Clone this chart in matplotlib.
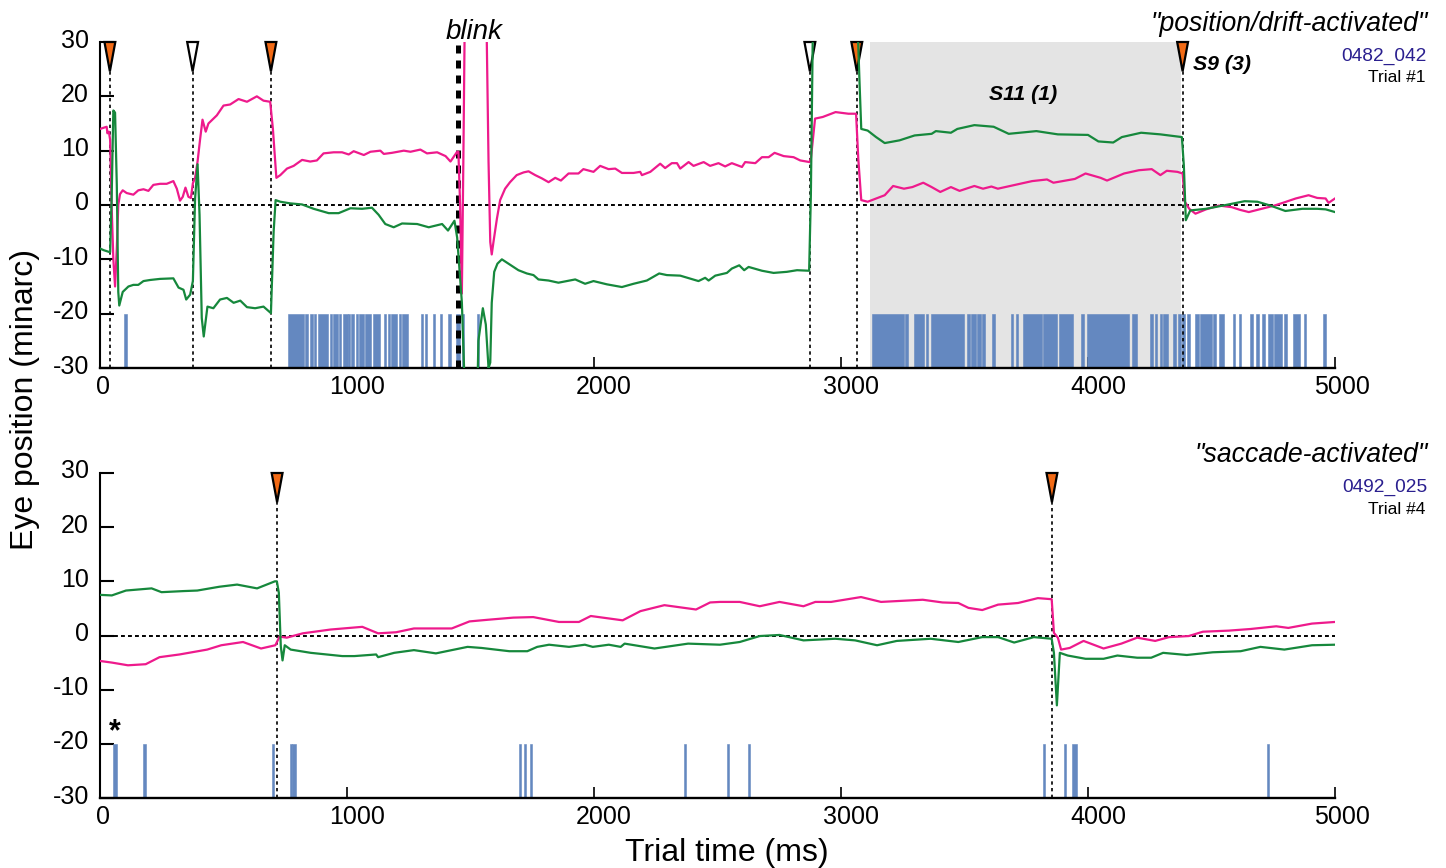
import matplotlib
matplotlib.use("Agg")
import matplotlib.pyplot as plt
from matplotlib.transforms import Affine2D

plt.rcParams['font.family'] = ['Liberation Sans', 'DejaVu Sans']
plt.rcParams['axes.unicode_minus'] = False

PINK = '#ee1a8c'
GREEN = '#16883c'
BLUE = '#6488c0'
ORANGE = '#f26a15'

# top panel traces (ms, minarc)
t1_pink = [0, 20, 27, 30, 36, 41, 47, 54, 61, 68, 74, 81, 92, 108, 135, 155, 176, 196, 216, 243, 270, 297, 311, 324, 335,
           346, 358, 368, 376, 385, 395, 405, 415, 428, 439, 473, 500, 527, 561, 595, 635, 662, 689, 700, 714, 730, 757,
           784, 818, 851, 878, 905, 946, 980, 1007, 1027, 1068, 1095, 1135, 1149, 1182, 1230, 1257, 1297, 1324, 1365,
           1399, 1419, 1446, 1451, 1458, 1465, 1471, 1478, 1500, 1550, 1566, 1573, 1580, 1586, 1593, 1607, 1620, 1640,
           1660, 1687, 1715, 1735, 1762, 1789, 1816, 1843, 1866, 1897, 1937, 1957, 1998, 2025, 2059, 2086, 2113, 2160,
           2187, 2194, 2228, 2268, 2288, 2315, 2336, 2349, 2383, 2403, 2444, 2470, 2504, 2531, 2558, 2599, 2612, 2653,
           2680, 2707, 2731, 2768, 2808, 2835, 2873, 2878, 2895, 2926, 2978, 3030, 3061, 3070, 3082, 3108, 3142, 3177,
           3211, 3255, 3289, 3333, 3367, 3402, 3445, 3480, 3540, 3575, 3609, 3635, 3705, 3774, 3834, 3860, 3947, 3990,
           4051, 4077, 4146, 4206, 4258, 4293, 4319, 4362, 4383, 4392, 4410, 4435, 4478, 4530, 4582, 4616, 4651, 4703,
           4755, 4789, 4841, 4893, 4928, 4962, 4974, 5000]
y1_pink = [14, 14.3, 14.4, 13.2, 13.5, 12, 0, -10, -15, -8, 0, 2, 2.7, 2.2, 1.9, 2.7, 2.9, 2.6, 3.7, 3.9, 3.9, 4.4, 3, 0.8,
           1.5, 3.2, 1.5, 1.3, 4, 5, 8, 12, 15.7, 13.5, 15, 16.5, 18.3, 18.5, 19.5, 19, 20, 19.2, 19, 14, 5, 5.5, 6.7,
           7.2, 8.3, 8, 8.2, 9.5, 9.7, 9.7, 9.3, 9.9, 9.2, 9.8, 10, 9.4, 9.6, 10, 9.8, 10.2, 9.5, 9.7, 9, 8, 9.8, 9.8,
           0, -16.3, 8, 40, 45, 45, 30, 8, -6.8, -9.1, -6.8, -2.5, 0.9, 3, 4.2, 5.5, 6, 6.2, 5.5, 4.9, 4.2, 5, 4.5, 5.8,
           5.8, 6.6, 6.1, 7.2, 6.6, 6.7, 5.9, 5.9, 6.1, 5.5, 6.1, 7.6, 6.8, 7.7, 7.7, 6.7, 7.9, 7.2, 7.9, 7.2, 7.7, 7.1,
           7.7, 7, 7.9, 7.7, 8.8, 8.8, 9.6, 9, 8.8, 8.2, 7.9, 8.5, 15.9, 16.2, 17.1, 16.8, 16.8, 8.5, 0.9, 0.6, 1.2, 1.8,
           3.5, 3, 3.3, 4.1, 3.3, 2.4, 3.3, 2.6, 3.5, 3, 3.4, 3, 3.7, 4.4, 4.7, 4.1, 4.8, 5.8, 5, 4.5, 5.8, 6.4, 6.6,
           5.5, 6.3, 6.1, 5.8, 0.6, -0.7, -1.6, -0.8, -0.1, -0.4, -0.9, -1.3, -0.7, -0.1, 0.4, 1.2, 1.8, 1.3, 1.2, 0.4, 1.2]
t1_green = [0, 14, 41, 47, 54, 61, 68, 74, 78, 92, 115, 135, 155, 176, 203, 243, 297, 318, 338, 349, 365, 376, 385, 395,
            403, 412, 420, 435, 459, 486, 514, 541, 568, 595, 628, 662, 692, 703, 711, 730, 770, 818, 865, 926, 966, 1014,
            1061, 1101, 1128, 1155, 1189, 1223, 1284, 1331, 1385, 1409, 1435, 1446, 1465, 1474, 1478, 1528, 1532, 1550,
            1562, 1573, 1580, 1586, 1596, 1609, 1627, 1654, 1694, 1728, 1755, 1775, 1816, 1856, 1924, 1964, 1998, 2052,
            2113, 2160, 2214, 2264, 2295, 2349, 2423, 2450, 2464, 2491, 2538, 2558, 2588, 2608, 2626, 2680, 2727, 2781,
            2822, 2871, 2878, 2888, 3000, 3062, 3075, 3082, 3108, 3142, 3177, 3237, 3298, 3367, 3384, 3445, 3471, 3540,
            3618, 3679, 3791, 3878, 4000, 4042, 4102, 4137, 4215, 4293, 4380, 4388, 4396, 4414, 4478, 4547, 4634, 4686,
            4738, 4799, 4868, 4928, 4962, 5000]
y1_green = [-8, -8.3, -8.7, 1, 17.4, 17, 3.7, -16, -18.5, -16, -15, -14.7, -14.7, -14, -13.8, -13.6, -13.5, -15.2, -15.6,
            -17.4, -16.5, -14, 1.2, 7.5, -1.8, -20.8, -24.2, -18.7, -19, -17.4, -17.1, -18, -17.6, -18.8, -19, -18.7,
            -19.9, -4.9, 0.9, 0.6, 0.3, 0.1, -0.7, -1.5, -1.5, -0.6, -0.7, -0.5, -1.8, -3.5, -4.1, -3.4, -3.5, -4.1, -3.5,
            -4.7, -2.9, -6, -17.9, -30.1, -34, -34, -25, -19, -22, -30, -29, -18, -12.3, -10.8, -10, -10.8, -12, -12.6,
            -12.9, -13.7, -13.9, -14.3, -13.7, -14.5, -14, -14.6, -15.1, -14.5, -13.9, -12.6, -12.9, -13, -14, -13.4,
            -13.9, -13, -12.5, -11.7, -11.1, -12, -11.4, -12.1, -12.5, -12.3, -12, -12.1, 1.8, 40, 45, 40, 22.6, 14, 13.7,
            12.5, 11.4, 11.9, 12.8, 13.1, 13.6, 13.3, 14, 14.7, 14.4, 13.1, 13.6, 13, 12.9, 11.7, 11.5, 12.5, 13.3, 13,
            12.5, 7.3, -2.8, -1, -0.7, -0.1, 0.7, 0.6, -0.1, -1.1, -0.7, -0.7, -0.8, -1.3]

# bottom panel traces
t2_pink = [0, 48, 113, 185, 241, 322, 434, 491, 579, 652, 710, 727, 756, 821, 885, 933, 1062, 1126, 1199, 1271, 1424, 1496,
           1569, 1673, 1754, 1858, 1939, 1987, 2116, 2188, 2285, 2413, 2470, 2510, 2590, 2671, 2751, 2848, 2896, 2960,
           3081, 3162, 3331, 3411, 3475, 3516, 3572, 3636, 3717, 3797, 3853, 3862, 3878, 3891, 3926, 3982, 4063, 4135,
           4199, 4272, 4328, 4408, 4465, 4570, 4658, 4762, 4811, 4907, 5000]
y2_pink = [-4.7, -5, -5.5, -5.3, -4, -3.5, -2.6, -1.8, -1.2, -2.4, -1.8, -0.2, -0.4, 0.4, 0.8, 1.1, 1.6, 0.4, 0.6, 1.3, 1.3,
           2.6, 2.9, 3.3, 3.4, 2.5, 2.5, 3.6, 2.8, 4.5, 5.6, 4.8, 6.1, 6.2, 6.2, 5.4, 6.2, 5.4, 6.2, 6.2, 7.1, 6.2, 6.6,
           6.1, 6, 5.1, 4.7, 5.7, 6, 6.9, 6.7, 0.5, -0.4, -2.6, -2.3, -1, -2.4, -1.5, -0.4, -1, -0.3, -0.1, 0.7, 0.9, 1.2,
           1.7, 1.4, 2.2, 2.5]
t2_green = [0, 48, 105, 209, 249, 338, 394, 483, 555, 636, 708, 716, 724, 732, 739, 748, 772, 853, 981, 1030, 1118, 1126,
            1191, 1271, 1360, 1488, 1545, 1657, 1730, 1770, 1818, 1899, 1963, 1995, 2060, 2108, 2124, 2245, 2381, 2510,
            2590, 2671, 2751, 2848, 2977, 3057, 3146, 3226, 3363, 3475, 3572, 3636, 3701, 3781, 3853, 3862, 3874, 3886,
            3918, 3990, 4063, 4119, 4199, 4256, 4304, 4400, 4505, 4618, 4698, 4795, 4907, 5000]
y2_green = [7.5, 7.4, 8.3, 8.7, 8, 8.2, 8.3, 9, 9.4, 8.7, 10, 10, 7.9, -2, -4.6, -1.8, -2.6, -3.2, -3.8, -3.8, -3.5, -4,
            -3.2, -2.7, -3.3, -2.1, -2.3, -2.9, -2.9, -2.1, -1.7, -2.1, -1.7, -2.1, -1.7, -2.1, -1.5, -2.4, -1.5, -1.7,
            -1.2, -0.1, 0.1, -0.9, -0.6, -0.9, -1.8, -1, -0.6, -1.2, -0.3, -0.3, -1.3, -0.3, -0.6, -3.2, -12.9, -3.2, -3.7,
            -4.3, -4.3, -3.7, -4.1, -4.1, -3.2, -3.6, -3.1, -2.9, -2.1, -2.6, -1.8, -1.7]

# spike raster, start and end of each solid run (ms)
spk1_on = [97, 763, 830, 851, 867, 884, 930, 944, 969, 983, 1006, 1015, 1035, 1049, 1073, 1104, 1148, 1164, 1179, 1211,
           1223, 1299, 1314, 1347, 1377, 1409, 1440, 1467, 1526, 3125, 3259, 3295, 3343, 3363, 3509, 3528, 3552, 3571,
           3611, 3688, 3709, 3737, 3819, 3883, 3970, 3995, 4177, 4251, 4271, 4290, 4304, 4345, 4365, 4382, 4399, 4433,
           4452, 4507, 4532, 4587, 4610, 4655, 4680, 4705, 4730, 4754, 4795, 4828, 4874, 4952]
spk1_off = [108, 826, 841, 861, 875, 925, 938, 965, 976, 1003, 1013, 1029, 1044, 1069, 1098, 1134, 1157, 1175, 1202, 1218,
            1245, 1307, 1323, 1357, 1385, 1420, 1458, 1474, 1536, 3255, 3270, 3337, 3352, 3498, 3522, 3547, 3567, 3582,
            3624, 3696, 3717, 3814, 3873, 3939, 3984, 4168, 4197, 4262, 4280, 4300, 4325, 4355, 4376, 4392, 4414, 4448,
            4502, 4518, 4551, 4596, 4621, 4666, 4691, 4716, 4749, 4786, 4804, 4858, 4883, 4963]
spk2_on = [53, 174, 696, 769, 778, 1696, 1717, 1739, 2365, 2539, 2624, 3817, 3904, 3934, 4724]
spk2_off = [69, 186, 704, 776, 794, 1704, 1725, 1747, 2373, 2547, 2632, 3825, 3912, 3954, 4732]

# saccade markers: time and whether the triangle is filled
sac1_times = [40, 375, 692, 2874, 3064, 4383]
sac1_fill = [ORANGE, 'white', ORANGE, 'white', ORANGE, ORANGE]
sac2_times = [717, 3854]
sac2_fill = [ORANGE, ORANGE]

x_ticks = [0, 1000, 2000, 3000, 4000, 5000]
y_ticks = [-30, -20, -10, 0, 10, 20, 30]

W, H = 1446, 868


def make_axes(top, bottom):
    ax = plt.gcf().add_axes([100 / W, 1 - bottom / H, 1235 / W, (bottom - top) / H])
    ax.set_xlim(0, 5000)
    ax.set_ylim(-30, 30)
    ax.spines['top'].set_visible(False)
    ax.spines['right'].set_visible(False)
    ax.spines['left'].set_linewidth(1.5)
    ax.spines['bottom'].set_linewidth(1.7)
    ax.set_xticks(x_ticks)
    ax.set_yticks(y_ticks)
    ax.tick_params(axis='x', direction='in', length=8, width=1.2, labelsize=18, pad=5)
    ax.tick_params(axis='y', direction='in', length=10, width=1.5, labelsize=18, pad=8)
    # tick labels sit a little off their ticks in the original
    for i, lab in enumerate(ax.get_xticklabels()):
        dx = 3 if i == 0 else (7 if i == 5 else 10)
        lab.set_transform(lab.get_transform() + Affine2D().translate(dx, 0))
    for lab in ax.get_yticklabels():
        lab.set_transform(lab.get_transform() + Affine2D().translate(0, 4))
    ax.xaxis.get_major_ticks()[-1].tick1line.set_color('#1a1a80')
    return ax


def draw_panel(ax, t_pink, y_pink, t_green, y_green, spk_on, spk_off, sac_times, sac_fill):
    ax.axhline(0, color='black', lw=1.4, dashes=(2, 1.6), zorder=3)
    ax.broken_barh([(a, b - a) for a, b in zip(spk_on, spk_off)], (-30, 10), facecolor=BLUE, edgecolor=BLUE, lw=0.4, zorder=2)
    for t, c in zip(sac_times, sac_fill):
        ax.plot([t, t], [-30, 25], color='black', lw=1.2, dashes=(2, 2), zorder=3)
        ax.fill([t - 22, t + 22, t], [30, 30, 24.6], facecolor=c, edgecolor='black', lw=1.6, zorder=4, clip_on=False)
    ax.plot(t_pink, y_pink, color=PINK, lw=1.6, zorder=5)
    ax.plot(t_green, y_green, color=GREEN, lw=1.6, zorder=6)


fig = plt.figure(figsize=(W / 100, H / 100), dpi=100)

ax1 = make_axes(42, 368)
ax1.axvspan(3117, 4375, color='#e4e4e4', lw=0, zorder=1)
draw_panel(ax1, t1_pink, y1_pink, t1_green, y1_green, spk1_on, spk1_off, sac1_times, sac1_fill)
ax1.plot([1449, 1449], [-30, 30], color='black', lw=3.6, dashes=(1.6, 1.4), dash_capstyle='butt', zorder=4)

ax2 = make_axes(473, 798)
draw_panel(ax2, t2_pink, y2_pink, t2_green, y2_green, spk2_on, spk2_off, sac2_times, sac2_fill)


def label(px, py, s, **kw):
    fig.text(px / W, 1 - py / H, s, va='center', **kw)


label(1428, 24, '"position/drift-activated"', ha='right', style='italic', fontsize=19.2)
label(1428, 455, '"saccade-activated"', ha='right', style='italic', fontsize=19.2)
label(1427, 56, '0482_042', ha='right', color='#2a1f8f', fontsize=13.8)
label(1425, 78, 'Trial #1', ha='right', fontsize=12.5)
label(1427, 487, '0492_025', ha='right', color='#2a1f8f', fontsize=13.8)
label(1425, 509, 'Trial #4', ha='right', fontsize=12.5)
label(474, 32, 'blink', ha='center', style='italic', fontsize=20)
label(1023, 95, 'S11 (1)', ha='center', style='italic', weight='bold', fontsize=15.3)
label(1222, 64, 'S9 (3)', ha='center', style='italic', weight='bold', fontsize=15.3)
label(115, 732, '*', ha='center', weight='bold', fontsize=22)
label(727, 853, 'Trial time (ms)', ha='center', fontsize=23)
fig.text(25 / W, 1 - 400 / H, 'Eye position (minarc)', rotation=90, ha='center', va='center', fontsize=23)

fig.savefig('out.png', dpi=100)
